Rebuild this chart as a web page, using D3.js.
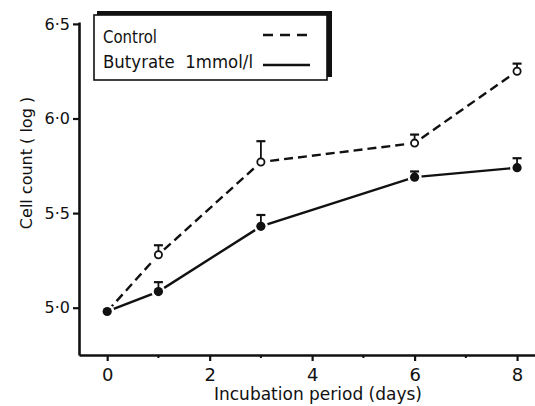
<!DOCTYPE html>
<html>
<head>
<meta charset="utf-8">
<script src="https://cdn.jsdelivr.net/npm/d3@7"></script>
<style>
  body { margin: 0; background: #fff; }
  svg { display: block; }
  text { font-family: "DejaVu Sans", sans-serif; fill: #111; }
</style>
</head>
<body>
<div id="chart"></div>
<script>
// data (log cell count, upper error bar only)
const days = [0, 1, 3, 6, 8];
const control = [4.98, 5.28, 5.77, 5.87, 6.25];
const controlErr = [0, 0.05, 0.11, 0.045, 0.04];
const butyrate = [4.98, 5.085, 5.43, 5.69, 5.74];
const butyrateErr = [0, 0.05, 0.06, 0.03, 0.05];
const xTicks = [0, 2, 4, 6, 8];
const xMinor = [1, 3, 5, 7];
const yTicks = [5.0, 5.5, 6.0, 6.5];

const width = 535;
const height = 406;

const svg = d3.select("#chart")
  .append("svg")
    .attr("width", width)
    .attr("height", height);

const x = d3.scaleLinear()
  .domain([-0.55, 8.35])
  .range([79, 535]);

const y = d3.scaleLinear()
  .domain([4.75, 6.51])
  .range([355, 22]);

// x axis
const xAxis = svg.append("g")
  .attr("transform", `translate(0,${y(4.75)})`)
  .call(d3.axisBottom(x)
    .tickValues(xTicks)
    .tickSize(6)
    .tickSizeOuter(0)
    .tickPadding(7)
    .tickFormat(d3.format("d")));
xAxis.select(".domain").attr("stroke-width", 2.6).attr("stroke", "#111");
xAxis.selectAll(".tick line").attr("stroke-width", 2.2).attr("stroke", "#111");
xAxis.selectAll(".tick text")
  .style("font-size", "18px")
  .attr("fill", "#111");

// minor ticks
svg.selectAll(".minor")
  .data(xMinor)
  .join("line")
  .attr("x1", d => x(d))
  .attr("x2", d => x(d))
  .attr("y1", y(4.75))
  .attr("y2", y(4.75) + 3)
  .attr("stroke", "#111")
  .attr("stroke-width", 2);

// y axis
const yAxis = svg.append("g")
  .attr("transform", `translate(${x(-0.55)},0)`)
  .call(d3.axisLeft(y)
    .tickValues(yTicks)
    .tickSize(6)
    .tickSizeOuter(0)
    .tickPadding(3)
    .tickFormat(d => d.toFixed(1).replace(".", "\u00b7")));
yAxis.select(".domain").attr("stroke-width", 2.6).attr("stroke", "#111");
yAxis.selectAll(".tick line").attr("stroke-width", 2.2).attr("stroke", "#111");
yAxis.selectAll(".tick text")
  .style("font-size", "16px")
  .attr("fill", "#111");

// axis titles
svg.append("text")
  .attr("x", 318)
  .attr("y", 400)
  .style("text-anchor", "middle")
  .style("font-size", "17px")
  .text("Incubation period (days)");

svg.append("text")
  .attr("transform", "translate(32,163) rotate(-90)")
  .style("text-anchor", "middle")
  .style("font-size", "16px")
  .text("Cell count ( log )");

// series
const series = [
  { name: "Control", vals: control, err: controlErr, dash: "9,5", open: true },
  { name: "Butyrate", vals: butyrate, err: butyrateErr, dash: null, open: false }
];

const line = d3.line()
  .x((d, i) => x(days[i]))
  .y(d => y(d));

series.forEach(s => {
  svg.append("path")
    .datum(s.vals)
    .attr("d", line)
    .attr("fill", "none")
    .attr("stroke", "#111")
    .attr("stroke-width", 2.4)
    .attr("stroke-dasharray", s.dash);
});

series.forEach(s => {
  const pts = s.vals.map((v, i) => ({ day: days[i], v: v, e: s.err[i] }));
  // white halo so lines break at the markers
  svg.selectAll(null)
    .data(pts)
    .join("circle")
    .attr("cx", d => x(d.day))
    .attr("cy", d => y(d.v))
    .attr("r", 7)
    .attr("fill", "#fff");
  // error bars
  const eb = pts.filter(d => d.e > 0);
  svg.selectAll(null)
    .data(eb)
    .join("line")
    .attr("x1", d => x(d.day))
    .attr("x2", d => x(d.day))
    .attr("y1", d => y(d.v))
    .attr("y2", d => y(d.v + d.e))
    .attr("stroke", "#111")
    .attr("stroke-width", 1.8);
  svg.selectAll(null)
    .data(eb)
    .join("line")
    .attr("x1", d => x(d.day) - 4.5)
    .attr("x2", d => x(d.day) + 4.5)
    .attr("y1", d => y(d.v + d.e))
    .attr("y2", d => y(d.v + d.e))
    .attr("stroke", "#111")
    .attr("stroke-width", 2.2);
  svg.selectAll(null)
    .data(pts)
    .join("circle")
    .attr("cx", d => x(d.day))
    .attr("cy", d => y(d.v))
    .attr("r", d => (s.open && d.day > 0) ? 3.6 : 4.6)
    .attr("fill", d => (s.open && d.day > 0) ? "#fff" : "#111")
    .attr("stroke", "#111")
    .attr("stroke-width", d => (s.open && d.day > 0) ? 1.8 : 0);
});

// legend box with heavy top/right edge
const lg = svg.append("g");
lg.append("rect")
  .attr("x", 97).attr("y", 11)
  .attr("width", 235).attr("height", 66)
  .attr("fill", "#111");
lg.append("rect")
  .attr("x", 94).attr("y", 15)
  .attr("width", 233).attr("height", 65)
  .attr("fill", "#fff")
  .attr("stroke", "#111")
  .attr("stroke-width", 1.6);

lg.append("text")
  .attr("x", 103).attr("y", 43)
  .style("font-size", "17px")
  .attr("textLength", 54)
  .attr("lengthAdjust", "spacingAndGlyphs")
  .text("Control");
lg.append("text")
  .attr("x", 103).attr("y", 68)
  .style("font-size", "17px")
  .attr("xml:space", "preserve")
  .attr("textLength", 150)
  .attr("lengthAdjust", "spacingAndGlyphs")
  .text("Butyrate  1mmol/l");

lg.append("line")
  .attr("x1", 263).attr("x2", 309)
  .attr("y1", 35).attr("y2", 35)
  .attr("stroke", "#111")
  .attr("stroke-width", 2.4)
  .attr("stroke-dasharray", "10,7");
lg.append("line")
  .attr("x1", 263).attr("x2", 310)
  .attr("y1", 65).attr("y2", 65)
  .attr("stroke", "#111")
  .attr("stroke-width", 2.4);
</script>
</body>
</html>
